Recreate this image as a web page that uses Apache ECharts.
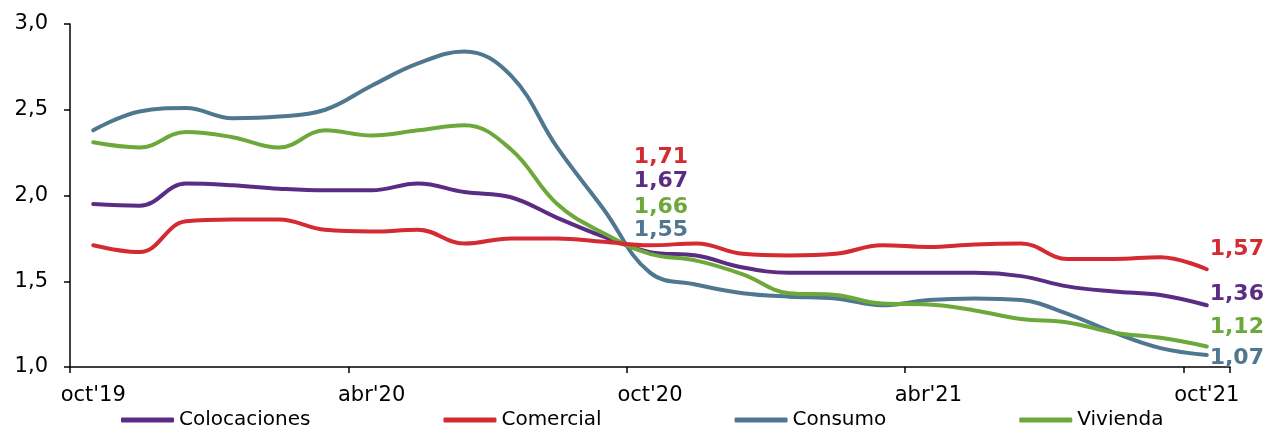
<!DOCTYPE html>
<html>
<head>
<meta charset="utf-8">
<script src="https://cdn.jsdelivr.net/npm/echarts@6/dist/echarts.min.js"></script>
<style>
html,body{margin:0;padding:0;background:#fff;}
#chart{width:1267px;height:429px;}
</style>
</head>
<body>
<div id="chart"></div>
<script>
const categories = ["oct'19","nov'19","dic'19","ene'20","feb'20","mar'20","abr'20","may'20","jun'20","jul'20","ago'20","sep'20",
  "oct'20","nov'20","dic'20","ene'21","feb'21","mar'21","abr'21","may'21","jun'21","jul'21","ago'21","sep'21","oct'21"];
const colocaciones = [1.95,1.94,2.07,2.06,2.04,2.03,2.03,2.07,2.02,1.99,1.87,1.76,1.67,1.65,1.58,1.55,1.55,1.55,1.55,1.55,1.53,1.47,1.44,1.42,1.36];
const comercial    = [1.71,1.67,1.85,1.86,1.86,1.80,1.79,1.80,1.72,1.75,1.75,1.73,1.71,1.72,1.66,1.65,1.66,1.71,1.70,1.715,1.72,1.63,1.63,1.64,1.57];
const consumo      = [2.38,2.49,2.51,2.45,2.46,2.50,2.64,2.77,2.84,2.70,2.28,1.92,1.55,1.48,1.43,1.41,1.40,1.36,1.39,1.40,1.39,1.31,1.20,1.11,1.07];
const vivienda     = [2.31,2.28,2.37,2.34,2.28,2.38,2.35,2.38,2.41,2.27,1.95,1.78,1.66,1.62,1.54,1.43,1.42,1.37,1.365,1.33,1.28,1.26,1.20,1.17,1.12];
const yTicks = [1.0,1.5,2.0,2.5,3.0];

const names = ['Colocaciones','Comercial','Consumo','Vivienda'];
const colors = ['#5B2C84','#D42A31','#4F7890','#6DA83A'];
const seriesData = [colocaciones, comercial, consumo, vivienda];
// label offsets (px) for oct'20 (index 12) and oct'21 (index 24)
const midOffsets = [[11,-71],[11,-88],[11,-42],[11,-47]];
const endOffsets = [[30,-11],[30,-20],[30,3],[30,-19]];

function fmt(v){ return v.toFixed(2).replace('.', ','); }

const series = seriesData.map((arr, si) => ({
  name: names[si],
  type: 'line',
  data: arr.map((v, i) => {
    if (i === 12 || i === 24) {
      return {
        value: v,
        label: {
          show: true,
          position: 'inside',
          offset: i === 12 ? midOffsets[si] : endOffsets[si],
          formatter: () => fmt(v),
          color: colors[si],
          fontFamily: 'DejaVu Sans',
          fontWeight: 'bold',
          fontSize: 22
        }
      };
    }
    return v;
  }),
  smooth: 0.4,
  symbol: 'circle',
  symbolSize: 1,
  showSymbol: true,
  showAllSymbol: true,
  itemStyle: { color: colors[si] },
  lineStyle: { color: colors[si], width: 4, cap: 'round', join: 'round' },
  emphasis: { disabled: true },
  z: si === 1 ? 3 : 2
}));

const chart = echarts.init(document.getElementById('chart'), null, { renderer: 'canvas' });
chart.setOption({
  animation: false,
  backgroundColor: '#ffffff',
  textStyle: { fontFamily: 'DejaVu Sans' },
  grid: { left: 70, right: 37, top: 24, bottom: 62, containLabel: false },
  legend: {
    data: names,
    top: 405,
    left: 116,
    icon: 'roundRect',
    itemWidth: 53,
    itemHeight: 5,
    itemGap: 133,
    textStyle: { fontFamily: 'DejaVu Sans', fontSize: 20, color: '#000' },
    selectedMode: false
  },
  xAxis: {
    type: 'category',
    data: categories,
    boundaryGap: true,
    axisLine: { lineStyle: { color: '#000', width: 1.5 } },
    axisTick: { show: true, interval: 5, length: 6, lineStyle: { color: '#000', width: 1.5 } },
    axisLabel: { interval: 5, color: '#000', fontSize: 21, fontFamily: 'DejaVu Sans', margin: 18 },
    splitLine: { show: false }
  },
  yAxis: {
    type: 'value',
    min: 1.0,
    max: 3.0,
    interval: 0.5,
    axisLine: { show: true, lineStyle: { color: '#000', width: 1.5 } },
    axisTick: { show: true, inside: false, length: 6, lineStyle: { color: '#000', width: 1.5 } },
    axisLabel: { color: '#000', fontSize: 21, fontFamily: 'DejaVu Sans', margin: 22,
      formatter: v => { const t = yTicks.find(x => Math.abs(x - v) < 1e-9); return (t !== undefined ? t : v).toFixed(1).replace('.', ','); } },
    splitLine: { show: false }
  },
  series: series
});
</script>
</body>
</html>
